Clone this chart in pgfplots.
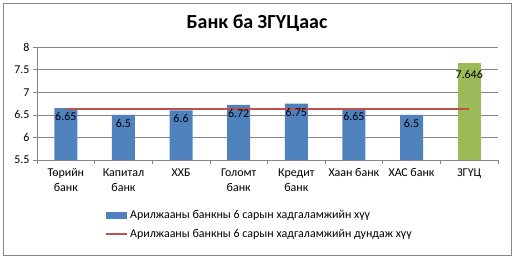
\documentclass[border=0pt]{standalone}
\usepackage{fontspec}
\setmainfont{Carlito}
\usepackage{pgfplots}
\pgfplotsset{compat=1.18}
\definecolor{xblue}{HTML}{4F81BD}
\definecolor{xgreen}{HTML}{9BBB59}
\definecolor{xred}{HTML}{C0504D}
\definecolor{xgrid}{HTML}{868686}
\begin{document}
\begin{tikzpicture}[x=1bp,y=1bp]
\useasboundingbox (0,0) rectangle (517,259);
\draw[xgrid, line width=0.8bp] (3.5,4) rectangle (511,255.5);
\node[font=\fontsize{20}{24}\selectfont\bfseries] at (257,236) {Банк ба ЗГҮЦаас};
\begin{axis}[
  at={(37bp,99bp)}, anchor=south west,
  scale only axis, width=461bp, height=113bp,
  xmin=-0.5, xmax=7.5, ymin=5.5, ymax=8,
  ytick={5.5,6,6.5,7,7.5,8},
  axis x line*=bottom, axis y line*=left,
  axis line style={xgrid, line width=0.6bp},
  ymajorgrids, grid style={xgrid, line width=0.6bp},
  xtick={0,...,7},
  xticklabels={{Төрийн\\банк},{Капитал\\банк},{ХХБ},{Голомт\\банк},{Кредит\\банк},{Хаан банк},{ХАС банк},{ЗГҮЦ}},
  major x tick style={draw=none},
  minor xtick={-0.5,0.5,...,7.5},
  minor x tick style={xgrid, line width=0.6bp},
  ytick style={xgrid, line width=0.6bp},
  tick align=outside, major tick length=4bp, minor tick length=4bp,
  /pgf/number format/assume math mode=true,
  xticklabel style={align=center, font=\fontsize{12}{15}\selectfont, anchor=north, yshift=-1bp},
  yticklabel style={font=\fontsize{12}{14}\selectfont},
  legend style={at={(0.1475,-0.43)}, anchor=north west, draw=none, fill=none,
     font=\fontsize{12}{14}\selectfont, row sep=5bp, inner sep=0pt},
  legend cell align=left,
]
\addplot[ybar, bar width=23bp, bar shift=0pt, fill=xblue, draw=none,
  nodes near coords, /pgf/number format/precision=3,
  every node near coord/.append style={anchor=north, yshift=-1bp, font=\fontsize{12}{14}\selectfont, text=black},
  legend image code/.code={\fill[xblue] (0bp,-3.5bp) rectangle (21bp,3.5bp);}]
  coordinates {(0,6.65) (1,6.5) (2,6.6) (3,6.72) (4,6.75) (5,6.65) (6,6.5)};
\addlegendentry{Арилжааны банкны 6 сарын хадгаламжийн хүү}
\addplot[ybar, bar width=23bp, bar shift=0pt, fill=xgreen, draw=none, forget plot,
  nodes near coords, /pgf/number format/precision=3,
  every node near coord/.append style={anchor=north, yshift=-4bp, font=\fontsize{12}{14}\selectfont, text=black}]
  coordinates {(7,7.646)};
\addplot[xred, line width=2bp, no marks,
  legend image code/.code={\draw[xred, line width=2bp] (0bp,0bp) -- (21bp,0bp);}]
  coordinates {(0,6.624) (7,6.624)};
\addlegendentry{Арилжааны банкны 6 сарын хадгаламжийн дундаж хүү}
\end{axis}
\end{tikzpicture}
\end{document}
